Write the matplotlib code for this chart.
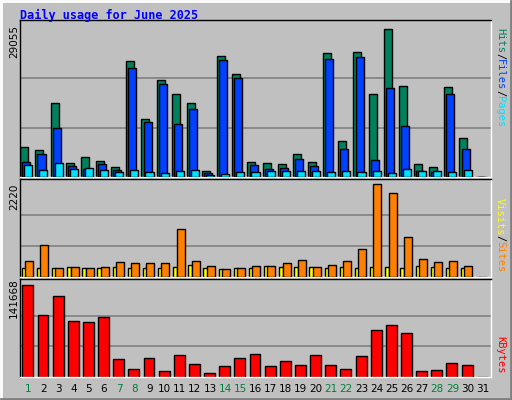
import matplotlib
matplotlib.use("Agg")
import matplotlib.pyplot as plt
import numpy as np

days = list(range(1, 32))
sc1 = 29055 / 441
hits_px = [90,81,222,42,60,48,30,345,174,288,246,222,18,360,306,45,42,39,69,45,369,108,372,246,441,270,39,30,267,117,0]
files_px = [45,69,147,33,24,39,21,324,165,276,159,204,12,348,294,36,24,27,54,33,351,84,357,51,264,153,18,15,246,84,0]
pages_px = [36,21,42,24,27,21,15,21,15,12,18,21,6,9,15,15,18,18,18,18,15,18,15,18,12,24,18,18,15,21,0]
hits = [round(v * sc1) for v in hits_px]
files = [round(v * sc1) for v in files_px]
pages = [round(v * sc1) for v in pages_px]

sc2 = 2220 / 276
visits_px = [48,96,27,30,27,30,45,42,42,42,144,48,33,24,27,33,33,42,51,30,36,48,84,276,249,120,54,45,48,33,0]
sites_px = [27,27,27,30,27,27,30,27,27,27,30,36,27,24,27,27,33,30,30,30,27,30,27,30,30,27,33,30,27,27,0]
visits = [round(v * sc2) for v in visits_px]
sites = [round(v * sc2) for v in sites_px]

sc3 = 141668 / 273
kb_px = [273,183,240,165,162,177,54,24,57,18,66,39,12,33,57,69,33,48,36,66,36,24,63,141,153,132,18,21,42,36,0]
kbytes = [round(v * sc3) for v in kb_px]

weekend = {1, 7, 8, 14, 15, 21, 22, 28, 29}

W, H = 512, 400
fig = plt.figure(figsize=(5.12, 4.0), dpi=100, facecolor="#c0c0c0")

def ax_at(x0, y0, x1, y1):
    a = fig.add_axes([x0 / W, 1 - y1 / H, (x1 - x0) / W, (y1 - y0) / H])
    a.set_facecolor("#c0c0c0")
    a.set_xlim(0.45, 31.55)
    a.set_xticks([]); a.set_yticks([])
    for s in a.spines.values():
        s.set_color("black"); s.set_linewidth(1)
    a.spines["right"].set_color("white"); a.spines["bottom"].set_color("white")
    return a

x = np.array(days)
ec = dict(edgecolor="black", linewidth=1)

a1 = ax_at(20, 20, 491, 177)
m1 = max(hits)
a1.set_ylim(0, m1 * 156 / 147)
for g in (m1 / 3, 2 * m1 / 3):
    a1.axhline(g, color="#808080", lw=1.2, zorder=0)
a1.bar(x - 0.2 + 0.27 / 2 - 0.13, hits, width=0.53, color="#00805c", align="edge", **ec) if False else None
a1.bar(x - 0.27, hits, width=0.53, color="#00805c", **ec, zorder=2)
a1.bar(x - 0.13, files, width=0.53, color="#0040ff", **ec, zorder=3)
a1.bar(x + 0.0, pages, width=0.53, color="#00e0ff", **ec, zorder=4)

a2 = ax_at(20, 179, 491, 277)
m2 = max(visits)
a2.set_ylim(0, m2 * 97 / 92)
for g in (m2 / 3, 2 * m2 / 3):
    a2.axhline(g, color="#808080", lw=1.2, zorder=0)
a2.bar(x - 0.3, sites, width=0.27, color="#ffff00", **ec, zorder=2)
a2.bar(x + 0.05, visits, width=0.53, color="#ff8000", **ec, zorder=3)

a3 = ax_at(20, 279, 491, 377)
m3 = max(kbytes)
a3.set_ylim(0, m3 * 97 / 91)
for g in (m3 / 3, 2 * m3 / 3):
    a3.axhline(g, color="#808080", lw=1.2, zorder=0)
a3.bar(x - 0.03, kbytes, width=0.72, color="#ff0000", **ec, zorder=2)

for d in days:
    fig.text((20 + (d - 0.45) * 471 / 31.1) / W, 1 - 389 / H, str(d), ha="center", va="center",
             fontsize=7.5, color="#008040" if d in weekend else "black", family="DejaVu Sans")

fig.text(20 / W, 1 - 15 / H, "Daily usage for June 2025", color="#0000ff", fontsize=8.5,
         fontweight="bold", family="DejaVu Sans Mono", va="center")

for txt, yc in (("29055", 42), ("2220", 197), ("141668", 298)):
    fig.text(14 / W, 1 - yc / H, txt, rotation=90, ha="center", va="center", fontsize=7.5, family="DejaVu Sans")

def side(parts, ytop):
    y = ytop
    for t, c in parts:
        fig.text(500 / W, 1 - y / H, t, rotation=270, ha="center", va="top", color=c,
                 fontsize=7.5, family="DejaVu Sans Mono")
        y += len(t) * 6.2

side([("Hits", "#00805c"), ("/", "black"), ("Files", "#0040ff"), ("/", "black"), ("Pages", "#00e0ff")], 28)
side([("Visits", "#ffff00"), ("/", "black"), ("Sites", "#ff8000")], 198)
side([("KBytes", "#ff0000")], 336)

# 3D border
bd = fig.add_axes([0, 0, 1, 1], facecolor="none")
bd.set_xlim(0, W); bd.set_ylim(H, 0); bd.axis("off")
bd.plot([1, W - 1], [1, 1], color="white", lw=2); bd.plot([1, 1], [1, H - 1], color="white", lw=2)
bd.plot([W - 1, W - 1], [1, H - 1], color="#808080", lw=2); bd.plot([1, W - 1], [H - 1, H - 1], color="#808080", lw=2)

fig.savefig("out.png", dpi=100, facecolor=fig.get_facecolor())
